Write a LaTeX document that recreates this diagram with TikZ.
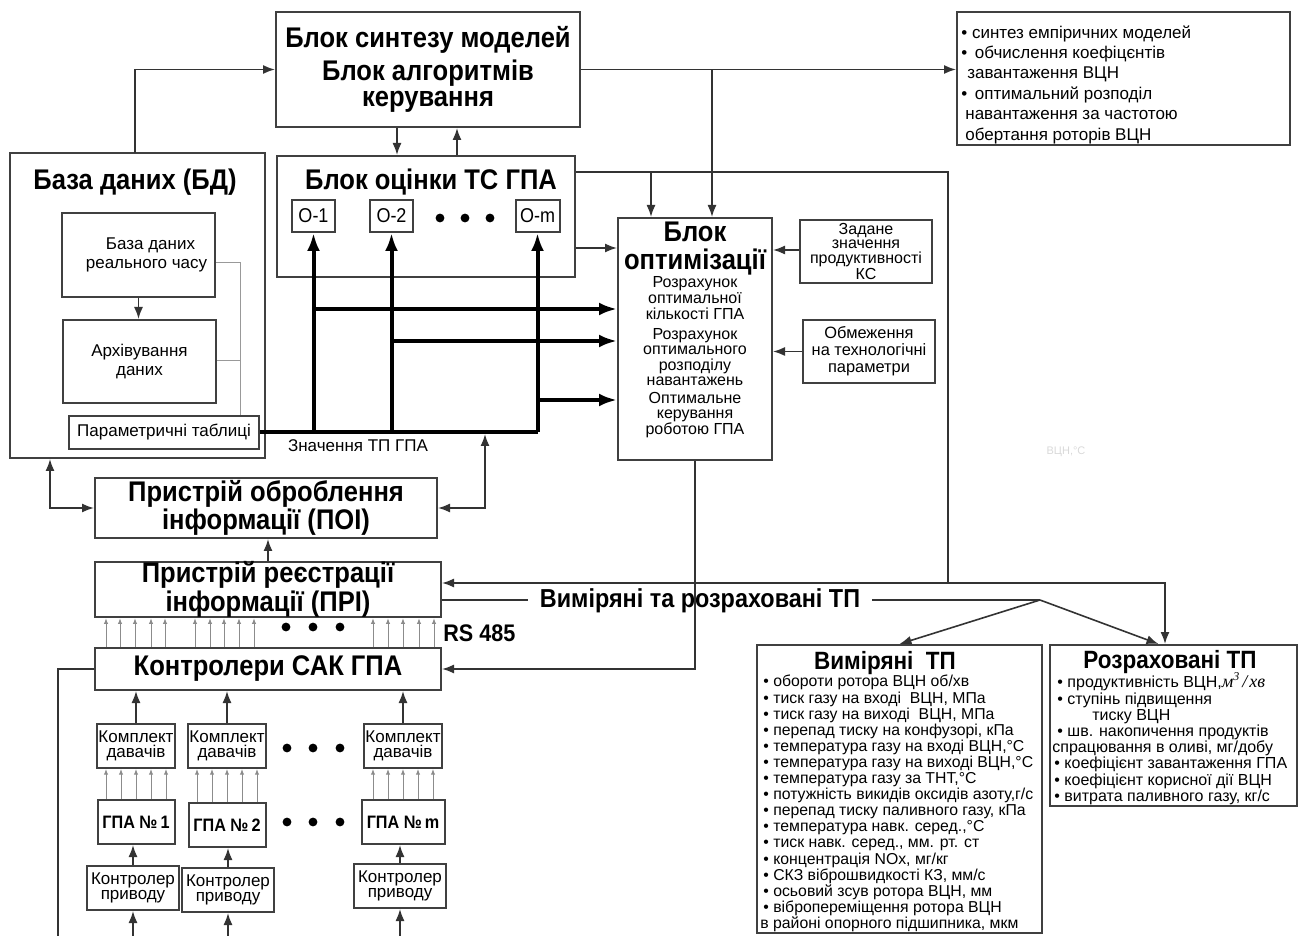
\documentclass[tikz,border=0pt]{standalone}
\usepackage{fontspec}
\setmainfont{Liberation Sans}
\newfontfamily\nar{Liberation Sans}[FakeStretch=0.9]
\newfontfamily\tms{Liberation Serif}
\usetikzlibrary{arrows.meta}

\begin{document}
\begin{tikzpicture}[x=0.5pt,y=-0.5pt,
    >={Latex[length=6pt,width=4.5pt]},
    every node/.style={inner sep=0pt},
    box/.style={draw=black!75,line width=1pt,align=center},
    sz/.style 2 args={minimum width=#1*0.5pt,minimum height=#2*0.5pt},
    ttl/.style={align=center,font=\nar\bfseries\fontsize{14.2}{12}\selectfont},
    sttl/.style={align=center,font=\nar\bfseries\fontsize{12.5}{11}\selectfont},
    mid/.style={align=center,font=\fontsize{8.5}{9.5}\selectfont},
    mid2/.style={align=center,font=\fontsize{8}{7.8}\selectfont},
    dev/.style={align=center,font=\fontsize{8.5}{7.6}\selectfont},
    gpa/.style={align=center,font=\nar\bfseries\fontsize{9}{9}\selectfont},
    conn/.style={draw=black!80,line width=0.8pt},
    bus/.style={draw=black,line width=2pt,>={Latex[length=9pt,width=6.5pt]}},
    sm/.style={draw=black!45,line width=0.5pt,>={Latex[length=2.8pt,width=2.2pt]}},
    gl/.style={draw=black!40,line width=0.5pt}]
  \useasboundingbox (0,0) rectangle (1303,936);

  % upper blocks
  \node[box,sz={304}{115},ttl,font=\nar\bfseries\fontsize{14.2}{12.9}\selectfont] (synth) at (428,69.5) {Блок синтезу моделей\\[2pt]Блок алгоритмів\\керування};
  \node[box,sz={333}{133}] (info) at (1123.5,78.5) {};
  \node[anchor=north west,align=left,font=\fontsize{8.5}{10.2}\selectfont] (infol) at (961,25) {• синтез емпіричних моделей\\
    • \,обчислення коефіцєнтів\\
    \hspace*{3pt}завантаження ВЦН\\
    • \,оптимальний розподіл\\
    \hspace*{2pt}навантаження за частотою\\
    \hspace*{2pt}обертання роторів ВЦН};

  % database
  \node[box,sz={255}{305}] (db) at (137.5,305.5) {};
  \node[ttl] (dbt) at (135,182) {База даних (БД)};
  \node[box,sz={153}{84},mid] (rt) at (138.5,255) {\hspace*{12pt}База даних\\\hspace*{8pt}реального часу};
  \node[box,sz={153}{83},mid] (arch) at (139.5,361.5) {Архівування\\даних};
  \node[box,sz={190}{33},mid] (ptab) at (164,432.5) {Параметричні таблиці};

  % estimation block
  \node[box,sz={298}{121}] (tc) at (426,216.5) {};
  \node[ttl] (tct) at (431,182) {Блок оцінки ТС ГПА};
  \node[box,sz={43}{32},font=\nar\fontsize{10}{10}\selectfont] (o1) at (313.5,216) {О-1};
  \node[box,sz={43}{32},font=\nar\fontsize{10}{10}\selectfont] (o2) at (391.5,216) {О-2};
  \node[box,sz={44}{32},font=\nar\fontsize{10}{10}\selectfont] (om) at (537.5,216) {О-m};
  \foreach \x in {440,465,490} \fill (\x,218) circle (2.2pt);

  % optimization block
  \node[box,sz={154}{242}] (opt) at (695,339) {};
  \node[ttl,font=\nar\bfseries\fontsize{14.2}{14}\selectfont] (optt) at (695,249) {Блок\\оптимізації};
  \node[mid2] (opt1) at (695,298) {Розрахунок\\оптимальної\\кількості ГПА};
  \node[mid2] (opt2) at (695,357) {Розрахунок\\оптимального\\розподілу\\навантажень};
  \node[mid2] (opt3) at (695,415) {Оптимальне\\керування\\роботою ГПА};
  \node[box,sz={132}{63},align=center,font=\fontsize{8}{7.2}\selectfont] (zad) at (866,251.5) {Задане\\значення\\продуктивності\\КС};
  \node[box,sz={132}{63},align=center,font=\fontsize{8.2}{8.5}\selectfont] (obm) at (869,351.5) {Обмеження\\на технологічні\\параметри};

  % lower chain
  \node[box,sz={342}{60},ttl] (poi) at (266,508) {Пристрій оброблення\\інформації (ПОІ)};
  \node[box,sz={346}{55},ttl] (pri) at (268,589.5) {Пристрій реєстрації\\інформації (ПРІ)};
  \node[box,sz={346}{42},ttl] (sak) at (268,669) {Контролери САК ГПА};
  \node[box,sz={78}{44},dev] (k1) at (136,746) {Комплект\\давачів};
  \node[box,sz={78}{44},dev] (k2) at (227,746) {Комплект\\давачів};
  \node[box,sz={78}{44},dev] (km) at (403,746) {Комплект\\давачів};
  \node[box,sz={77}{44},gpa] (g1) at (136,822) {ГПА №\,1};
  \node[box,sz={77}{44},gpa] (g2) at (227,825) {ГПА №\,2};
  \node[box,sz={83}{44},gpa] (gm) at (403,822) {ГПА №\,m};
  \node[box,sz={92}{44},dev] (c1) at (133,888) {Контролер\\приводу};
  \node[box,sz={92}{44},dev] (c2) at (228,890) {Контролер\\приводу};
  \node[box,sz={92}{44},dev] (cm) at (400,886) {Контролер\\приводу};
  \foreach \y in {748,822} \foreach \x in {287,313,340} \fill (\x,\y) circle (2.2pt);

  % parameter lists
  \node[box,sz={285}{288}] (meas) at (899.5,789) {};
  \node[sttl] (meast) at (885,663) {Виміряні\ \ ТП};
  \node[anchor=north west,align=left,font=\fontsize{7.9}{8.05}\selectfont] (measl) at (760,675) {\hspace*{1.5pt}• обороти ротора ВЦН об/хв\\
    \hspace*{1.5pt}• тиск газу на вході\ \ ВЦН, МПа\\
    \hspace*{1.5pt}• тиск газу на виході\ \ ВЦН, МПа\\
    \hspace*{1.5pt}• перепад тиску на конфузорі, кПа\\
    \hspace*{1.5pt}• температура газу на вході ВЦН,°С\\
    \hspace*{1.5pt}• температура газу на виході ВЦН,°С\\
    \hspace*{1.5pt}• температура газу за ТНТ,°С\\
    \hspace*{1.5pt}• потужність викидів оксидів азоту,г/с\\
    \hspace*{1.5pt}• перепад тиску паливного газу, кПа\\
    \hspace*{1.5pt}• температура навк. серед.,°С\\
    \hspace*{1.5pt}• тиск навк. серед., мм. рт. ст\\
    \hspace*{1.5pt}• концентрація NOx, мг/кг\\
    \hspace*{1.5pt}• СКЗ віброшвидкості КЗ, мм/с\\
    \hspace*{1.5pt}• осьовий зсув ротора ВЦН, мм\\
    \hspace*{1.5pt}• вібропереміщення ротора ВЦН\\
    в районі опорного підшипника, мкм};
  \node[box,sz={247}{161}] (calc) at (1173.5,725.5) {};
  \node[sttl] (calct) at (1170,662) {Розраховані ТП};
  \node[anchor=north west,align=left,font=\fontsize{8}{8.1}\selectfont] (calcl) at (1052,672) {\hspace*{2.5pt}• продуктивність ВЦН,{\tms\itshape\fontsize{9}{9}\selectfont м\textsuperscript{3}\kern1pt/\kern1pt хв}\\
    \hspace*{2.5pt}• ступінь підвищення\\
    \hspace*{20pt}тиску ВЦН\\
    \hspace*{2.5pt}• шв. накопичення продуктів\\
    спрацювання в оливі, мг/добу\\
    \hspace*{1pt}• коефіцієнт завантаження ГПА\\
    \hspace*{1pt}• коефіцієнт корисної дії ВЦН\\
    \hspace*{1pt}• витрата паливного газу, кг/с};

  % labels
  \node[font=\fontsize{8.5}{9}\selectfont] (zn) at (358,446) {Значення ТП ГПА};
  \node[anchor=west,font=\nar\bfseries\fontsize{12}{12}\selectfont] (rs) at (443,633) {RS 485};
  \node[inner xsep=6pt,font=\nar\bfseries\fontsize{13}{13}\selectfont] (vrt) at (700,601) {Виміряні та розраховані ТП};
  \node[text=black!15,font=\fontsize{5.5}{6}\selectfont] (ghost) at (1066,452) {ВЦН,°С};

  % junctions
  \coordinate (b0) at (135,153);
  \coordinate (s1) at (397,0);
  \coordinate (s2) at (457,0);
  \coordinate (j1) at (712,69.5);
  \coordinate (j2) at (948,172);
  \coordinate (j3) at (651,172);
  \coordinate (j4) at (1165,583);
  \coordinate (j5) at (1040,600);
  \coordinate (j6) at (485,434);
  \coordinate (j7) at (50,0);
  \coordinate (j8) at (240,263);
  \coordinate (j9) at (58,936);

  % connectors
  \draw[conn,->] (b0) |- (synth.west);
  \draw[conn,->] (synth.east) -- (synth.east -| info.west);
  \draw[conn,->] (j1) -- (j1 |- opt.north);
  \draw[conn,->] (synth.south -| s1) -- (tc.north -| s1);
  \draw[conn,->] (tc.north -| s2) -- (synth.south -| s2);
  \draw[conn] (tc.east |- j2) -- (j2) -- (j2 |- j4);
  \draw[conn,->] (j3) -- (j3 |- opt.north);
  \draw[conn,->] (tc.east |- 0,248) -- (opt.west |- 0,248);
  \draw[conn,->] (zad.west |- 0,250) -- (opt.east |- 0,250);
  \draw[conn,->] (obm.west) -- (obm.west -| opt.east);
  \draw[conn,<->] (pri.east |- j4) -- (j4) -- (j4 |- calc.north);
  \draw[conn] (pri.east |- j5) -- (vrt.west |- j5);
  \draw[conn] (vrt.east |- j5) -- (j5);
  \draw[conn,->] (j5) -- (meas.north);
  \draw[conn,->] (j5) -- ([xshift=-7.5pt]calc.north);
  \draw[conn,->] (opt.south) |- (sak.east);
  \draw[conn,->] (pri.north) -- (pri.north |- poi.south);
  \draw[conn,<->] (poi.east) -| (j6);
  \draw[conn,<->] (db.south -| j7) |- (poi.west);
  \draw[conn,->] (rt.south) -- (rt.south |- arch.north);
  \draw[gl] (rt.east |- j8) -- (j8) -- (j8 |- ptab.north);
  \draw[gl] (arch.east |- 0,361) -- (j8 |- 0,361);

  % thick bus of process values
  \draw[bus] (ptab.east) -- (om.south |- ptab.east);
  \foreach \o/\yy in {o1/309,o2/341,om/400} {
    \draw[bus,->] (\o.south |- ptab.east) -- (\o.south);
    \draw[bus,->] (\o.south |- 0,\yy) -- (opt.west |- 0,\yy);
  }

  % field level
  \foreach \x in {106,120,135,151,165,195,210,224,239,254,373,388,403,419,434}
    \draw[sm,->] (sak.north -| \x,0) -- (pri.south -| \x,0);
  \foreach \x in {286,313,340} \fill (\x,627) circle (2.2pt);
  \foreach \n in {k1,k2,km} \draw[conn,->] (\n.north) -- (\n.north |- sak.south);
  \foreach \n/\m in {g1/k1,g2/k2,gm/km}
    \foreach \d in {-30,-15,0,15,30}
      \draw[sm,->] ([xshift=\d*0.5pt]\n.north) -- ([xshift=\d*0.5pt]\m.south);
  \foreach \n/\m in {c1/g1,c2/g2,cm/gm} \draw[conn,->] (\n.north) -- (\n.north |- \m.south);
  \foreach \n in {c1,c2,cm} \draw[conn,->] (\n.south |- j9) -- (\n.south);
  \draw[conn] (sak.west) -| (j9);
\end{tikzpicture}
\end{document}
